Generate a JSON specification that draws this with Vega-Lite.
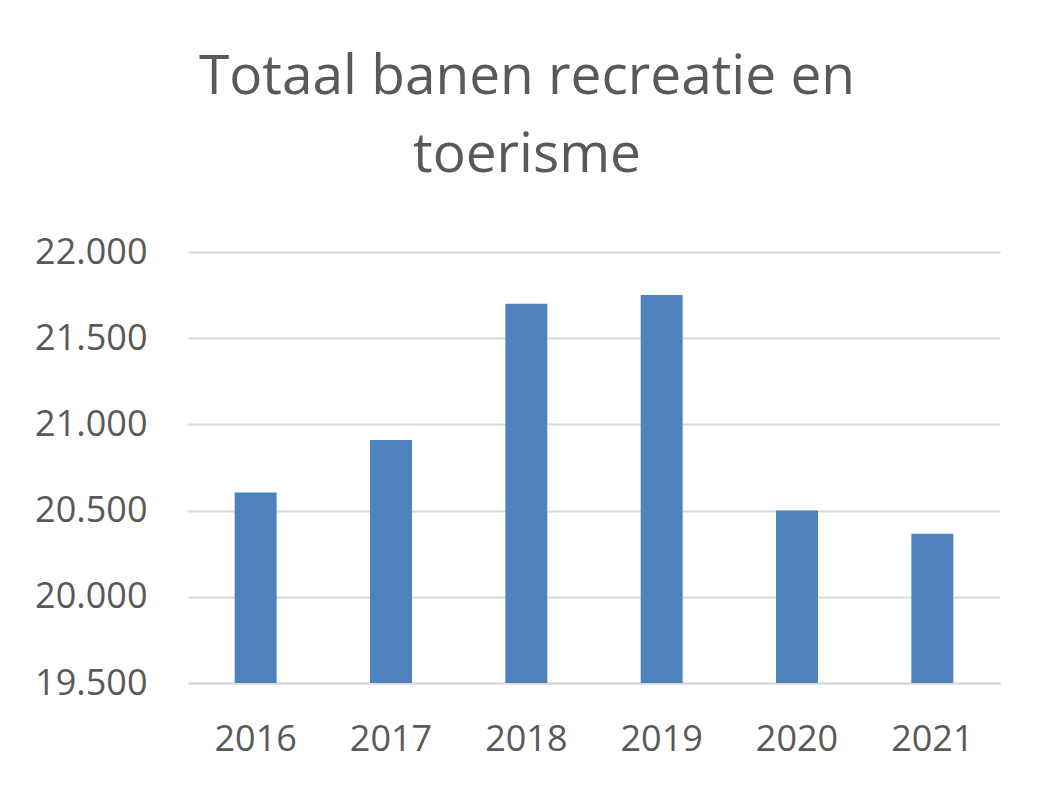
{
  "$schema": "https://vega.github.io/schema/vega-lite/v6.json",
  "autosize": "none",
  "width": 812,
  "height": 431,
  "padding": {"left": 188, "top": 252, "right": 58, "bottom": 114},
  "background": "white",
  "title": {
    "text": ["Totaal banen recreatie en", "toerisme"],
    "font": "Open Sans",
    "fontSize": 55,
    "fontWeight": "normal",
    "color": "#595959",
    "anchor": "middle",
    "dx": -67,
    "offset": 50,
    "lineHeight": 78
  },
  "data": {
    "values": [
      {"jaar": "2016", "banen": 20605},
      {"jaar": "2017", "banen": 20910},
      {"jaar": "2018", "banen": 21700},
      {"jaar": "2019", "banen": 21750},
      {"jaar": "2020", "banen": 20500},
      {"jaar": "2021", "banen": 20365}
    ]
  },
  "mark": {"type": "bar", "color": "#4F81BD", "clip": true},
  "encoding": {
    "x": {
      "field": "jaar",
      "type": "ordinal",
      "scale": {"paddingInner": 0.69, "paddingOuter": 0.345},
      "axis": {
        "title": null,
        "labelAngle": 0,
        "labelFont": "Open Sans",
        "labelFontSize": 36,
        "labelColor": "#595959",
        "labelPadding": 39,
        "ticks": false,
        "domainColor": "#d9d9d9",
        "domainWidth": 2
      }
    },
    "y": {
      "field": "banen",
      "type": "quantitative",
      "scale": {"domain": [19500, 22000], "nice": false, "zero": false},
      "axis": {
        "title": null,
        "values": [19500, 20000, 20500, 21000, 21500, 22000],
        "labelExpr": "replace(format(datum.value, ','), ',', '.')",
        "labelFont": "Open Sans",
        "labelFontSize": 36,
        "labelColor": "#595959",
        "labelPadding": 41,
        "ticks": false,
        "domain": false,
        "gridColor": "#d9d9d9",
        "gridWidth": 2
      }
    },
    "y2": {"datum": 19500}
  },
  "config": {"view": {"stroke": null}}
}
